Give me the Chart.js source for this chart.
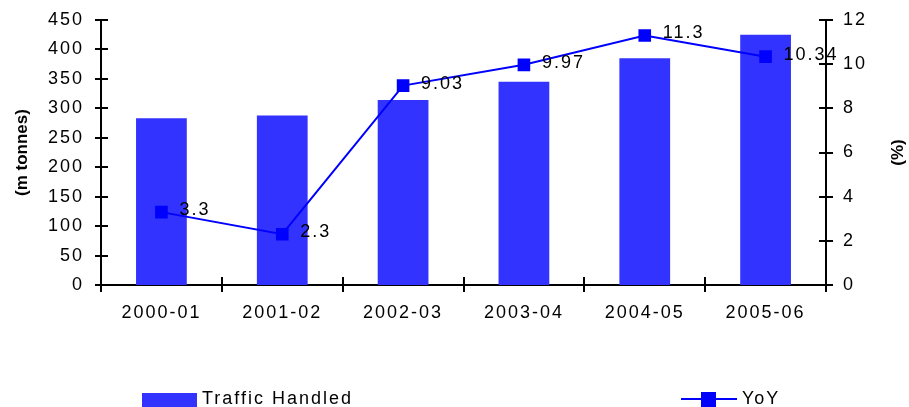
<!DOCTYPE html>
<html>
<head>
<meta charset="utf-8">
<script src="https://cdn.jsdelivr.net/npm/chart.js@4.4.0/dist/chart.umd.min.js"></script>
<style>
  html, body { margin: 0; padding: 0; background: #fff; }
  #wrap { width: 909px; height: 407px; position: relative; }
</style>
</head>
<body>
<div id="wrap"><canvas id="trafficChart"></canvas></div>
<script>
const years = ['2000-01', '2001-02', '2002-03', '2003-04', '2004-05', '2005-06'];
const traffic = [283, 288, 314, 345, 385, 425];
const yoy = [3.3, 2.3, 9.03, 9.97, 11.3, 10.34];
const yoyLabels = ['3.3', '2.3', '9.03', '9.97', '11.3', '10.34'];

const BAR_BLUE = '#3333FF';
const LINE_BLUE = '#0000FF';
const FONT = '"Liberation Sans", Arial, sans-serif';
const SPACING = '2px';

// wide-looking labels: canvas state is reset on resize, so set spacing each pass
const spacingPlugin = {
    id: 'spacing',
    beforeLayout(chart) { chart.ctx.letterSpacing = SPACING; },
    beforeDraw(chart) { chart.ctx.letterSpacing = SPACING; }
};

// tick marks that cross the axis lines, plus axis titles and value labels
const decorPlugin = {
    id: 'decor',
    afterDraw(chart) {
        const ctx = chart.ctx;
        const { x, y, y1 } = chart.scales;
        ctx.save();
        ctx.strokeStyle = '#000';
        ctx.lineWidth = 2;
        ctx.beginPath();
        y.ticks.forEach((t, i) => {
            const py = Math.round(y.getPixelForTick(i));
            ctx.moveTo(x.left - 6, py); ctx.lineTo(x.left + 7, py);
        });
        y1.ticks.forEach((t, i) => {
            const py = Math.round(y1.getPixelForTick(i));
            ctx.moveTo(x.right - 7, py); ctx.lineTo(x.right + 7, py);
        });
        for (let i = 0; i <= years.length; i++) {
            const px = Math.round(x.getPixelForValue(i - 0.5));
            ctx.moveTo(px, y.bottom - 8); ctx.lineTo(px, y.bottom + 7);
        }
        ctx.stroke();

        // axis titles
        ctx.letterSpacing = '0px';
        ctx.fillStyle = '#000';
        ctx.font = 'bold 17px ' + FONT;
        ctx.textAlign = 'center';
        ctx.textBaseline = 'middle';
        const midY = (y.top + y.bottom) / 2;
        ctx.save();
        ctx.translate(22, midY);
        ctx.rotate(-Math.PI / 2);
        ctx.fillText('(m tonnes)', 0, 0);
        ctx.restore();
        ctx.save();
        ctx.translate(898, midY);
        ctx.rotate(-Math.PI / 2);
        ctx.fillText('(%)', 0, 0);
        ctx.restore();

        // YoY value labels beside the markers
        ctx.letterSpacing = SPACING;
        ctx.font = '18px ' + FONT;
        ctx.textAlign = 'left';
        const meta = chart.getDatasetMeta(1);
        meta.data.forEach((pt, i) => {
            ctx.fillText(yoyLabels[i], pt.x + 18, pt.y - 2);
        });

        // legend along the bottom
        const ly = 399;
        ctx.fillStyle = BAR_BLUE;
        ctx.fillRect(142, 393, 55, 14);
        ctx.fillStyle = '#000';
        ctx.fillText(chart.data.datasets[0].label, 202, ly);
        ctx.strokeStyle = LINE_BLUE;
        ctx.beginPath();
        ctx.moveTo(681, ly); ctx.lineTo(737, ly);
        ctx.stroke();
        ctx.fillStyle = LINE_BLUE;
        ctx.fillRect(701, ly - 7, 15, 15);
        ctx.fillStyle = '#000';
        ctx.fillText(chart.data.datasets[1].label, 742, ly);
        ctx.restore();
    }
};

const tickFont = { family: FONT, size: 18 };
const noGrid = { display: false, drawTicks: false, tickLength: 0 };

// fixed axis widths; the tick padding should not push the plot down
function fixWidth(w) {
    return scale => {
        scale.width = w;
        scale.paddingTop = 10;
        scale.paddingBottom = 10;
    };
}

new Chart(document.getElementById('trafficChart'), {
    data: {
        labels: years,
        datasets: [{
            type: 'bar',
            label: 'Traffic Handled',
            data: traffic,
            backgroundColor: BAR_BLUE,
            barPercentage: 0.42,
            categoryPercentage: 1,
            yAxisID: 'y',
            order: 1
        }, {
            type: 'line',
            label: 'YoY',
            data: yoy,
            borderColor: LINE_BLUE,
            borderWidth: 2,
            tension: 0,
            pointStyle: 'rect',
            pointRadius: 7.5,
            pointBackgroundColor: LINE_BLUE,
            pointBorderColor: LINE_BLUE,
            yAxisID: 'y1',
            order: 0
        }]
    },
    options: {
        responsive: true,
        maintainAspectRatio: false,
        animation: false,
        layout: { padding: { top: 20, left: 0, right: 0, bottom: 0 } },
        plugins: {
            legend: { display: false },
            tooltip: { enabled: false }
        },
        scales: {
            x: {
                grid: noGrid,
                border: { display: true, color: '#000', width: 2 },
                ticks: { color: '#000', font: tickFont, padding: 17, maxRotation: 0 },
                afterFit(scale) { scale.height = 122; }
            },
            y: {
                position: 'left',
                min: 0,
                max: 450,
                grid: noGrid,
                border: { display: true, color: '#000', width: 2 },
                ticks: { stepSize: 50, color: '#000', font: tickFont, padding: 17 },
                afterFit: fixWidth(101)
            },
            y1: {
                position: 'right',
                min: 0,
                max: 12,
                grid: noGrid,
                border: { display: true, color: '#000', width: 2 },
                ticks: { stepSize: 2, color: '#000', font: tickFont, padding: 17 },
                afterFit: fixWidth(83)
            }
        }
    },
    plugins: [spacingPlugin, decorPlugin]
});
</script>
</body>
</html>
